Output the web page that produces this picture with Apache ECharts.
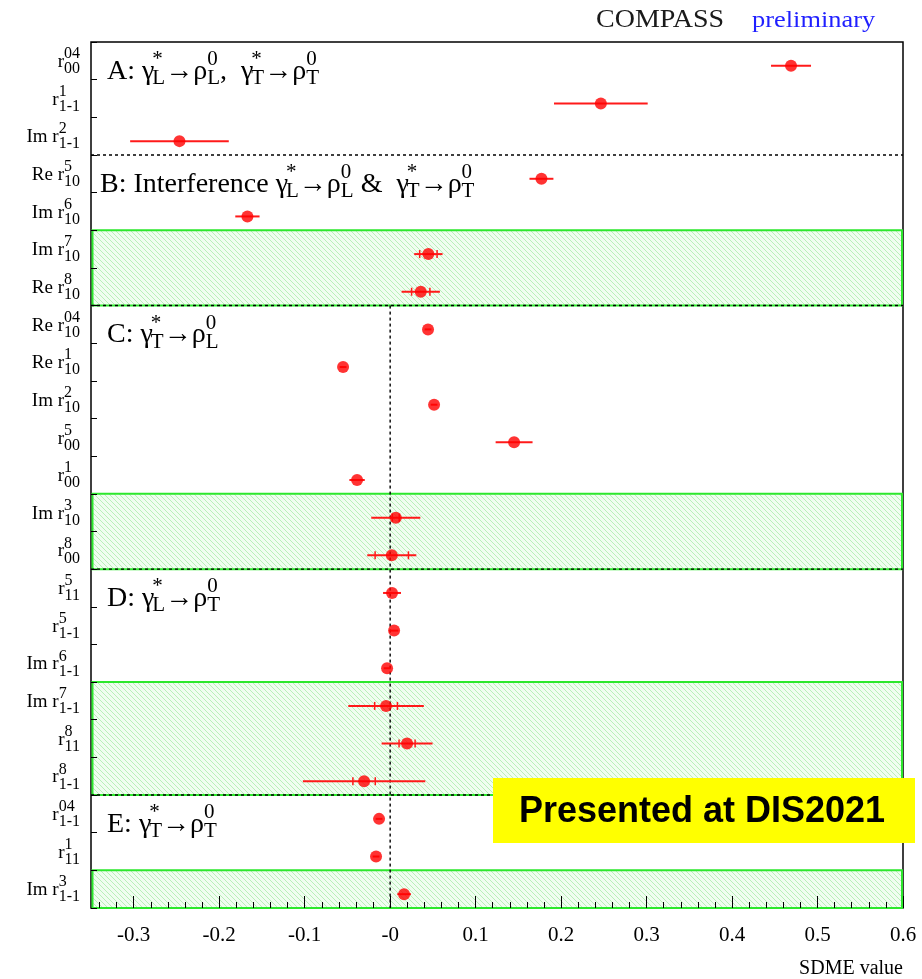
<!DOCTYPE html>
<html>
<head>
<meta charset="utf-8">
<script src="https://cdn.jsdelivr.net/npm/echarts@6/dist/echarts.min.js"></script>
<style>
html,body{margin:0;padding:0;background:#fff;}
#chart{width:922px;height:979px;}
</style>
</head>
<body>
<div id="chart"></div>
<script>
// ---- SDME names (prefix, superscript, subscript), top to bottom ----
const labelPrefix = ['', '', 'Im ', 'Re ', 'Im ', 'Im ', 'Re ', 'Re ', 'Re ', 'Im ', '', '', 'Im ', '', '', '', 'Im ', 'Im ', '', '', '', '', 'Im '];
const labelSup = ['04', '1', '2', '5', '6', '7', '8', '04', '1', '2', '5', '1', '3', '8', '5', '5', '6', '7', '8', '8', '04', '1', '3'];
const labelSub = ['00', '1-1', '1-1', '10', '10', '10', '10', '10', '10', '10', '00', '00', '10', '00', '11', '1-1', '1-1', '1-1', '11', '1-1', '1-1', '11', '1-1'];

// ---- SDME values with total and statistical uncertainties ----
const sdmeValues = [0.469, 0.2465, -0.2465, 0.177, -0.167, 0.0447, 0.0358, 0.0443, -0.0551, 0.0514, 0.145, -0.0387, 0.0066, 0.0019, 0.0022, 0.0046, -0.0036, -0.0048, 0.0198, -0.0305, -0.013, -0.0165, 0.0163];
const totalErrors = [0.0234, 0.0548, 0.0577, 0.014, 0.0142, 0.0166, 0.0224, 0.004, 0.004, 0.004, 0.0216, 0.009, 0.0287, 0.0287, 0.0105, 0.005, 0.004, 0.0442, 0.0298, 0.0716, 0.004, 0.004, 0.008];
const statErrors = [null, null, null, null, null, 0.0102, 0.0107, null, null, null, null, null, 0.004, 0.0195, null, null, null, 0.0133, 0.0094, 0.0131, null, null, null];

// ---- x axis ticks ----
const tickValues = [-0.3, -0.2, -0.1, 0, 0.1, 0.2, 0.3, 0.4, 0.5, 0.6];
const tickLabels = ['-0.3', '-0.2', '-0.1', '-0', '0.1', '0.2', '0.3', '0.4', '0.5', '0.6'];

// ---- sections and shaded groups (row indices) ----
const bandRows = [[5, 6], [12, 13], [17, 19], [22, 22]];
const sectionStarts = [0, 3, 7, 14, 20];
const sectionTitles = [
  [{t: 'A: γ', k: -2, sup: '*', sub: 'L'}, {t: '→ρ', sup: '0', sub: 'L'}, {t: ',  γ', k: -2, sup: '*', sub: 'T'}, {t: '→ρ', sup: '0', sub: 'T'}],
  [{t: 'B: Interference γ', k: -2, sup: '*', sub: 'L'}, {t: '→ρ', sup: '0', sub: 'L'}, {t: ' &  γ', k: -2, sup: '*', sub: 'T'}, {t: '→ρ', sup: '0', sub: 'T'}],
  [{t: 'C: γ', k: -2, sup: '*', sub: 'T'}, {t: '→ρ', sup: '0', sub: 'L'}],
  [{t: 'D: γ', k: -2, sup: '*', sub: 'L'}, {t: '→ρ', sup: '0', sub: 'T'}],
  [{t: 'E: γ', k: -2, sup: '*', sub: 'T'}, {t: '→ρ', sup: '0', sub: 'T'}]
];
const sectionIndent = [16, 9, 16, 16, 16];

const categories = labelPrefix.map((p, i) => p + 'r^' + labelSup[i] + '_' + labelSub[i]);

const SERIF = 'Liberation Serif';
const ROW_SHIFT = 5;

const measureCtx = document.createElement('canvas').getContext('2d');
function textWidth(str, size, family, weight) {
  measureCtx.font = (weight || 'normal') + ' ' + size + 'px "' + (family || SERIF) + '"';
  return measureCtx.measureText(str).width;
}
// text element placed by its alphabetic baseline
function baseText(str, x, baseline, size, align, color) {
  return {
    type: 'text', x: x, y: baseline - 0.305 * size, silent: true,
    style: {text: str, fontSize: size, fontFamily: SERIF, fill: color || '#000',
      align: align || 'left', verticalAlign: 'middle'}
  };
}
// lays out text with stacked superscript/subscript pairs
function mathRun(tokens, x, baseline, st) {
  const els = [];
  let cx = x;
  tokens.forEach(tok => {
    if (tok.t) {
      els.push(baseText(tok.t, cx, baseline, st.size));
      cx += textWidth(tok.t, st.size);
    }
    if (tok.sup || tok.sub) {
      cx += tok.k || 0;
      let w = 0;
      if (tok.sup) {
        els.push(baseText(tok.sup, cx, baseline - st.supRise, st.small));
        w = Math.max(w, textWidth(tok.sup, st.small));
      }
      if (tok.sub) {
        els.push(baseText(tok.sub, cx, baseline + st.subDrop, st.small));
        w = Math.max(w, textWidth(tok.sub, st.small));
      }
      cx += w;
    }
  });
  return els;
}

function hatchPattern() {
  const c = document.createElement('canvas');
  c.width = 5; c.height = 5;
  const g = c.getContext('2d');
  g.fillStyle = '#f0fdf0';
  g.fillRect(0, 0, 5, 5);
  g.fillStyle = '#b9f0b9';
  for (let i = 0; i < 5; i++) g.fillRect(i, i, 1, 1);
  return c;
}
const hatch = hatchPattern();

function bandHeight(api) { return api.size([0, 1])[1]; }
function boundaryY(api, b) { return api.coord([0, b])[1] - bandHeight(api) / 2; }

const minorTicks = [];
for (let k = -17; k <= 30; k++) { if (k % 5 !== 0) minorTicks.push(Math.round(k * 2) / 100); }

const chart = echarts.init(document.getElementById('chart'), null, {renderer: 'canvas'});

const option = {
  animation: false,
  backgroundColor: '#fff',
  grid: {left: 91, top: 42, width: 812, height: 866, show: true, borderColor: '#000', borderWidth: 1.5, backgroundColor: 'transparent'},
  xAxis: [{
    type: 'value', min: -0.35, max: 0.6, position: 'bottom', z: 10,
    axisLine: {show: false, onZero: false}, splitLine: {show: false},
    axisTick: {show: true, inside: true, length: 12, customValues: tickValues, lineStyle: {color: '#000', width: 1}},
    axisLabel: {show: true, customValues: tickValues, margin: 17, color: '#000', fontFamily: SERIF, fontSize: 21,
      formatter: v => { const j = tickValues.findIndex(t => Math.abs(t - v) < 1e-9); return j >= 0 ? tickLabels[j] : ''; }}
  }, {
    type: 'value', min: -0.35, max: 0.6, position: 'bottom', z: 10,
    axisLine: {show: false, onZero: false}, splitLine: {show: false},
    axisTick: {show: true, inside: true, length: 6, customValues: minorTicks, lineStyle: {color: '#000', width: 1}},
    axisLabel: {show: false}
  }],
  yAxis: {
    type: 'category', data: categories, inverse: true, z: 10, position: 'left',
    axisLine: {show: false, onZero: false}, splitLine: {show: false},
    axisTick: {show: true, inside: true, length: 6, interval: 0, lineStyle: {color: '#000', width: 1}},
    axisLabel: {show: false, interval: 0}
  },
  series: [
    {
      // shaded groups
      type: 'custom', name: 'bands', z: 1, silent: true,
      data: bandRows.map(r => [0, r[0], r[1]]),
      encode: {x: 0, y: 1},
      renderItem: (params, api) => {
        const cs = params.coordSys;
        const y0 = boundaryY(api, api.value(1));
        const y1 = boundaryY(api, api.value(2)) + bandHeight(api);
        return {
          type: 'rect', silent: true,
          shape: {x: cs.x + 1.5, y: y0, width: cs.width - 2.5, height: y1 - y0},
          style: {fill: {image: hatch, repeat: 'repeat'}, stroke: '#2de82d', lineWidth: 2}
        };
      }
    },
    {
      // section separators
      type: 'custom', name: 'separators', z: 3, silent: true,
      data: sectionStarts.slice(1).map(s => [0, s]),
      encode: {x: 0, y: 1},
      renderItem: (params, api) => {
        const cs = params.coordSys;
        const y = boundaryY(api, api.value(1));
        return {
          type: 'line', silent: true,
          shape: {x1: cs.x, y1: y, x2: cs.x + cs.width, y2: y},
          style: {stroke: '#000', lineWidth: 1.4, lineDash: [3, 3]}
        };
      }
    },
    {
      // zero reference line for sections C, D, E
      type: 'custom', name: 'zero', z: 3, silent: true,
      data: [[0, sectionStarts[2]]],
      encode: {x: 0, y: 1},
      renderItem: (params, api) => {
        const cs = params.coordSys;
        const x = api.coord([api.value(0), api.value(1)])[0];
        return {
          type: 'line', silent: true,
          shape: {x1: x, y1: boundaryY(api, api.value(1)), x2: x, y2: cs.y + cs.height},
          style: {stroke: '#000', lineWidth: 1.4, lineDash: [3, 3]}
        };
      }
    },
    {
      // section titles
      type: 'custom', name: 'titles', z: 4, silent: true, clip: false,
      data: sectionStarts.map((s, j) => [0, s, j]),
      encode: {x: 0, y: 1},
      renderItem: (params, api) => {
        const cs = params.coordSys;
        const j = api.value(2);
        const base = boundaryY(api, api.value(1)) + 38;
        return {type: 'group', children: mathRun(sectionTitles[j], cs.x + sectionIndent[j], base,
          {size: 28, small: 21, supRise: 14, subDrop: 5})};
      }
    },
    {
      // row labels left of the frame
      type: 'custom', name: 'labels', z: 4, silent: true, clip: false,
      data: categories.map((c, i) => [0, i]),
      encode: {x: 0, y: 1},
      renderItem: (params, api) => {
        const cs = params.coordSys;
        const i = api.value(1);
        const c = api.coord([0, i])[1];
        const right = cs.x - 11;
        const small = 16;
        const w = Math.max(textWidth(labelSup[i], small), textWidth(labelSub[i], small));
        const xs = right - w;
        const base = c + 7;
        const kids = [baseText(labelPrefix[i] + 'r', xs, base, 19, 'right')];
        kids.push(baseText(labelSup[i], xs, base - 9, small));
        kids.push(baseText(labelSub[i], xs, base + 6, small));
        return {type: 'group', children: kids};
      }
    },
    {
      // error bars: full line = total, small ticks = statistical
      type: 'custom', name: 'errors', z: 5, silent: true,
      data: sdmeValues.map((v, i) => [v, i, totalErrors[i], statErrors[i] == null ? 0 : statErrors[i]]),
      encode: {x: 0, y: 1},
      renderItem: (params, api) => {
        const v = api.value(0), i = api.value(1), te = api.value(2), se = api.value(3);
        const y = api.coord([v, i])[1] + ROW_SHIFT;
        const xl = api.coord([v - te, i])[0], xr = api.coord([v + te, i])[0];
        const kids = [{type: 'line', shape: {x1: xl, y1: y, x2: xr, y2: y}, style: {stroke: '#ff1a1a', lineWidth: 2}}];
        if (se > 0) {
          [v - se, v + se].forEach(e => {
            const xe = api.coord([e, i])[0];
            kids.push({type: 'line', shape: {x1: xe, y1: y - 4, x2: xe, y2: y + 4}, style: {stroke: '#ff1a1a', lineWidth: 1.5}});
          });
        }
        return {type: 'group', children: kids};
      }
    },
    {
      type: 'scatter', name: 'SDME', z: 6, silent: true,
      data: sdmeValues.map((v, i) => [v, i]),
      symbol: 'circle', symbolSize: 12, symbolOffset: [0, ROW_SHIFT],
      itemStyle: {color: '#ff0000'}
    }
  ],
  graphic: [
    {type: 'text', x: 596, y: 28.5 - 0.305 * 25, scaleX: 1.12, silent: true,
      style: {text: 'COMPASS', fontSize: 25, fontFamily: SERIF, fill: '#1a1a1a', align: 'left', verticalAlign: 'middle'}},
    {type: 'text', x: 752, y: 28.5 - 0.305 * 24, scaleX: 1.1, silent: true,
      style: {text: 'preliminary', fontSize: 24, fontFamily: SERIF, fill: '#1f1fff', align: 'left', verticalAlign: 'middle'}},
    {type: 'text', x: 903, y: 975 - 0.305 * 20, silent: true,
      style: {text: 'SDME value', fontSize: 20, fontFamily: SERIF, fill: '#000', align: 'right', verticalAlign: 'middle'}},
    {type: 'rect', z: 100, silent: true, shape: {x: 493, y: 778, width: 422, height: 65}, style: {fill: '#ffff00'}},
    {type: 'text', z: 101, x: 702, y: 823.3 - 0.31 * 36, silent: true,
      style: {text: 'Presented at DIS2021', fontSize: 36, fontWeight: 'bold', fontFamily: 'Liberation Sans', fill: '#000', align: 'center', verticalAlign: 'middle'}}
  ]
};

chart.setOption(option);
</script>
</body>
</html>
